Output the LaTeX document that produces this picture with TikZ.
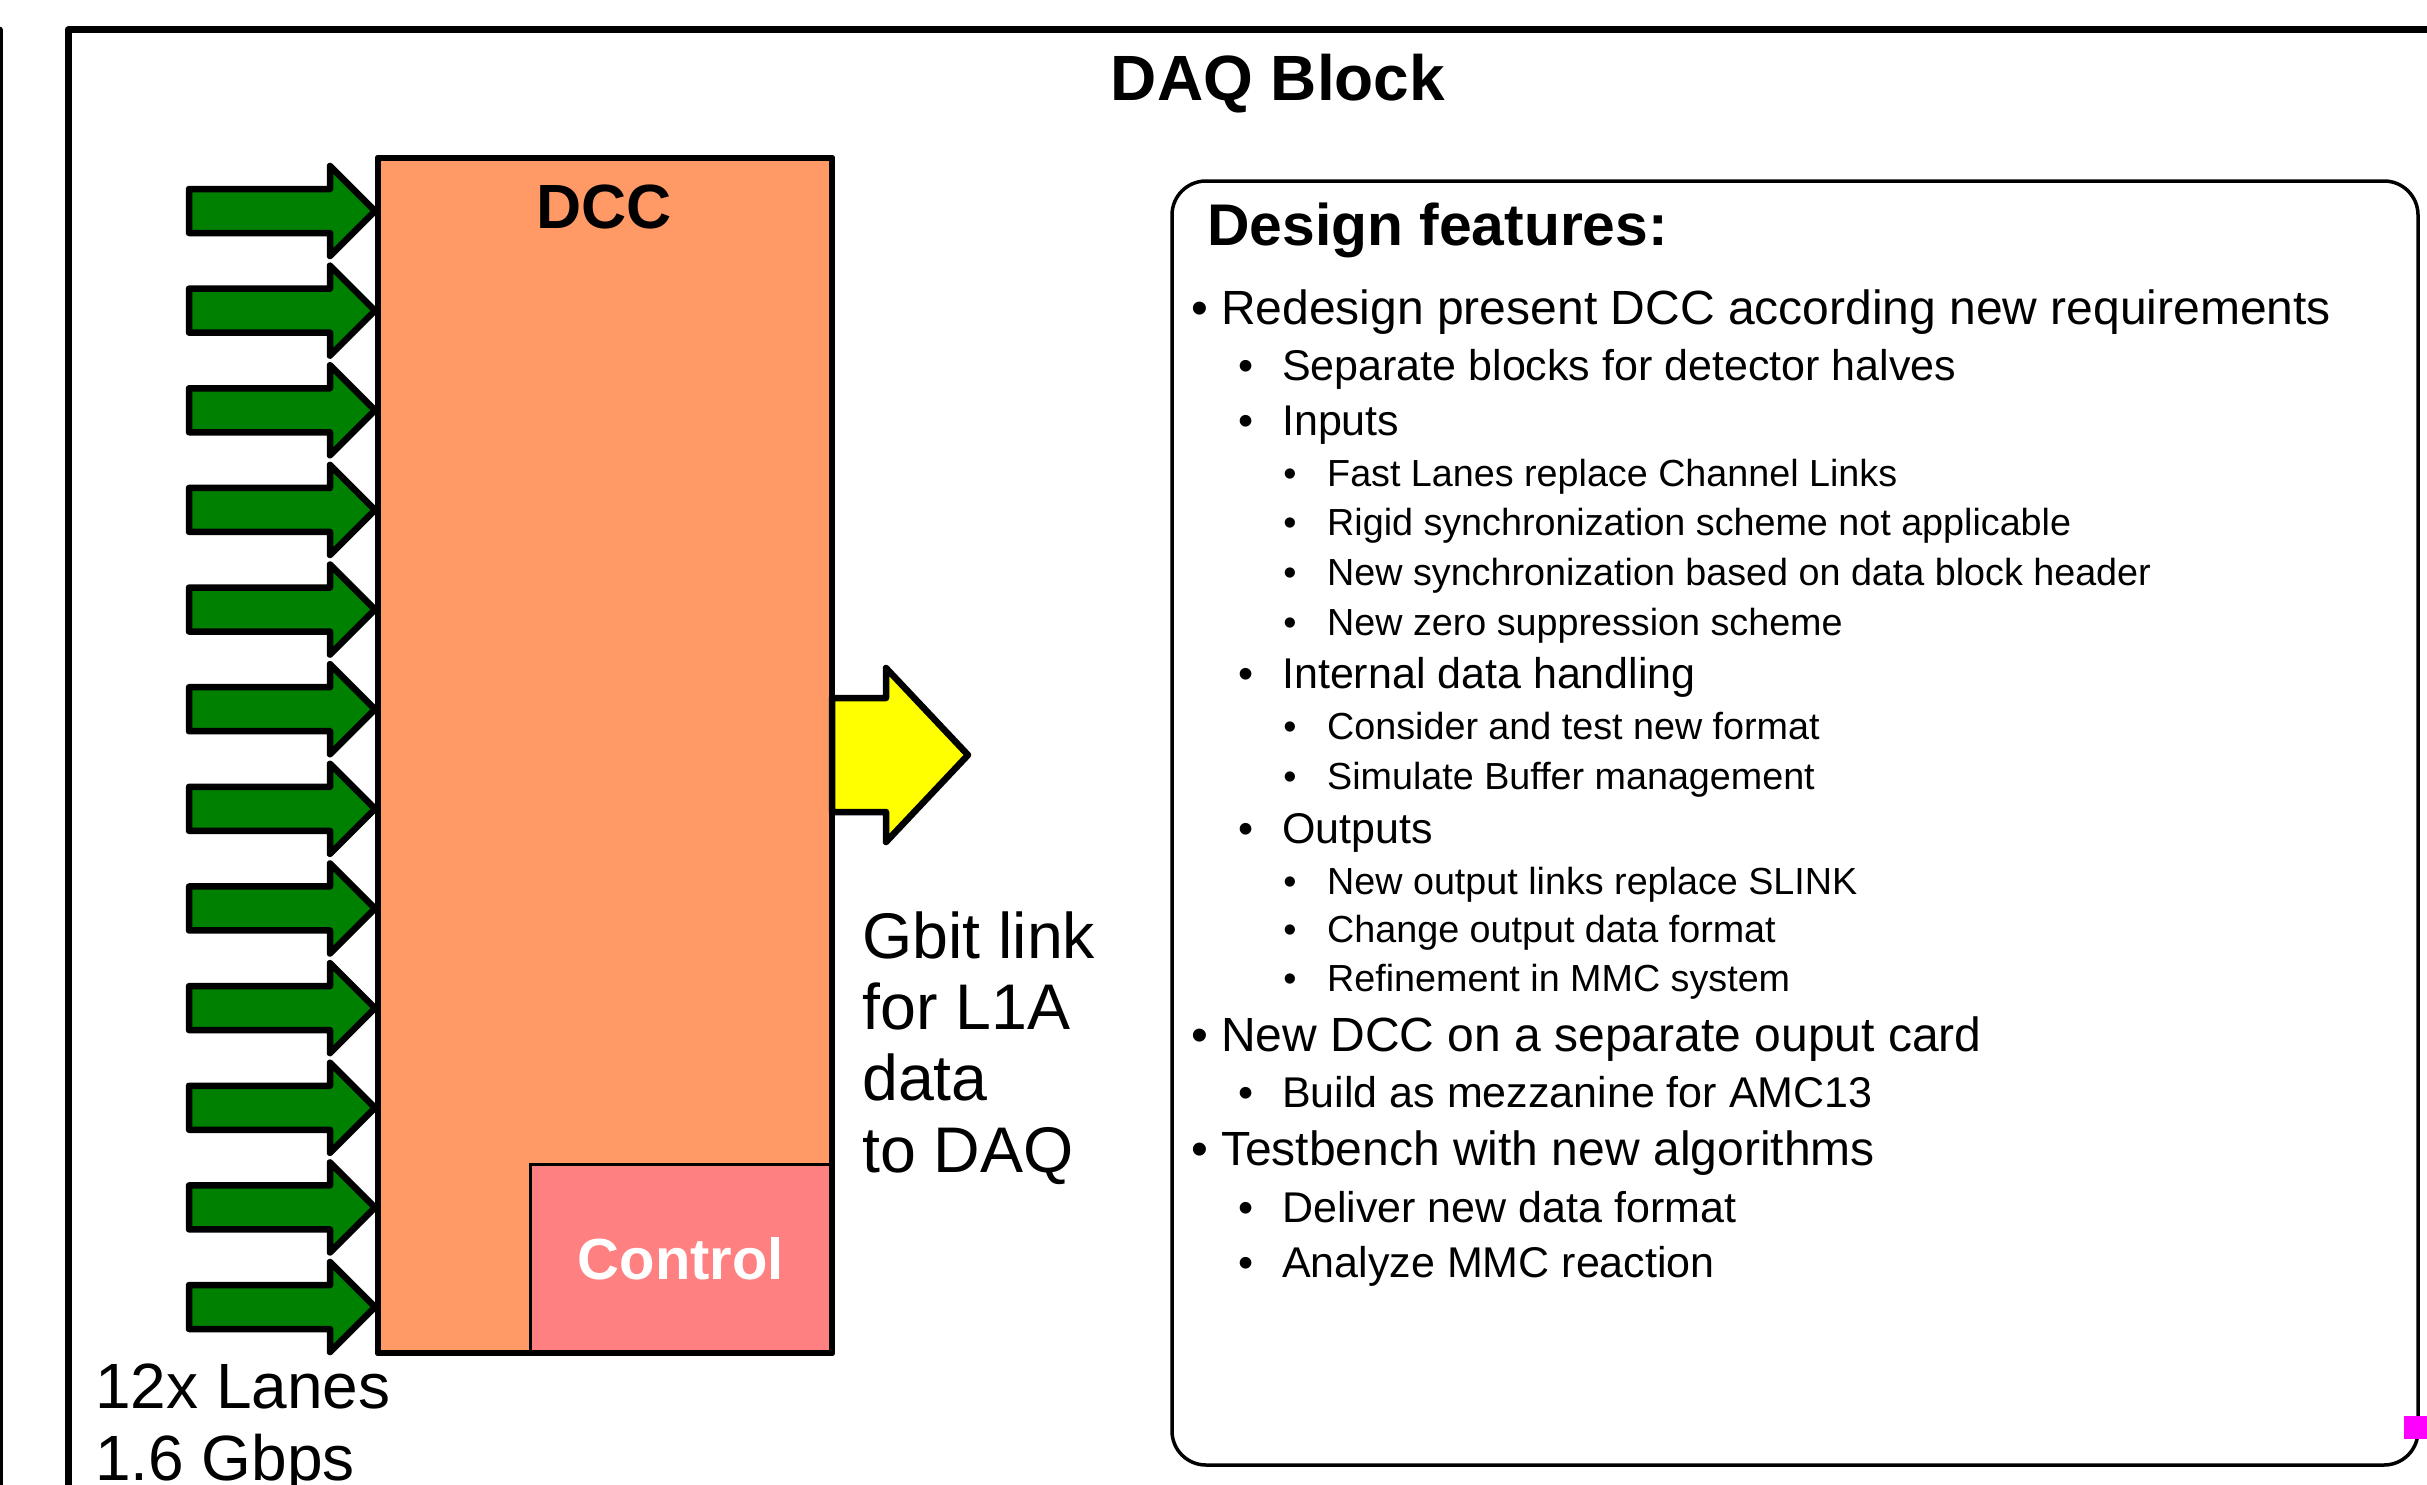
\documentclass[tikz,border=0pt]{standalone}
\usepackage{fontspec}
\setmainfont{Liberation Sans}
\definecolor{dccorange}{RGB}{255,153,102}
\definecolor{ctrlred}{RGB}{255,128,128}
\definecolor{lanegreen}{RGB}{0,128,0}
\definecolor{linkyellow}{RGB}{255,255,0}
\definecolor{marker}{RGB}{255,0,255}
\tikzset{
  fsz/.style={font=\fontsize{#1}{#1}\selectfont},
  txt/.style={inner sep=0pt, anchor=base west},
  ctxt/.style={inner sep=0pt, anchor=base},
  lanearrow/.style={draw=black, fill=lanegreen, line width=6.5pt, line join=round},
  linkarrow/.style={draw=black, fill=linkyellow, line width=6.5pt, line join=round},
  lone/.style={txt, fsz=48},
  ltwo/.style={txt, fsz=43},
  lthree/.style={txt, fsz=37.7},
  bone/.style={ctxt, fsz=48},
  btwo/.style={ctxt, fsz=43},
  bthree/.style={ctxt, fsz=37.7},
}
\begin{document}
\begin{tikzpicture}[x=1pt,y=-1pt]
\useasboundingbox (0,0) rectangle (2427,1485);
% frames
\draw[line width=7pt, line cap=round] (-0.5,30) -- (-0.5,1600);
\draw[line width=7pt, line join=round] (68,1600) -- (68,30) -- (2500,30);
\node[ctxt, font=\bfseries\fontsize{64}{64}\selectfont] (title) at (1278,101) {DAQ Block};
% DCC
\draw[fill=dccorange, line width=6pt, line join=round] (378,158) rectangle (832,1353);
\node[ctxt, font=\bfseries\fontsize{62.5}{62.5}\selectfont] (dcc) at (604,228) {DCC};
\draw[fill=ctrlred, line width=3pt] (530,1164) rectangle (832,1353);
\draw[line width=6pt, line join=round] (378,158) rectangle (832,1353);
\node[ctxt, text=white, font=\bfseries\fontsize{58}{58}\selectfont] (control) at (681,1279) {Control};
% lane arrows
\foreach \i in {0,...,11} {
  \pgfmathsetmacro\yy{211+99.64*\i}
  \begin{scope}[shift={(0,\yy)}]
    \draw[lanearrow] (189,-22) -- (330,-22) -- (330,-45) -- (375,0) -- (330,45) -- (330,22) -- (189,22) -- cycle;
  \end{scope}
}
% output arrow
\draw[linkarrow] (832,698) -- (886,698) -- (886,668) -- (968,755) -- (886,842) -- (886,812) -- (832,812) -- cycle;
% left labels
\node[txt, fsz=64.5] (g1) at (862,958) {Gbit link};
\node[txt, fsz=64.5] (g2) at (862,1029) {for L1A};
\node[txt, fsz=64.5] (g3) at (862,1100) {data};
\node[txt, fsz=64.5] (g4) at (862,1172) {to DAQ};
\node[txt, fsz=64] (l1) at (95,1408) {12x Lanes};
\node[txt, fsz=64] (l2) at (95,1480) {1.6 Gbps};
% design box
\draw[line width=3.5pt, rounded corners=34pt] (1172,181) rectangle (2418,1465);
\node[txt, font=\bfseries\fontsize{58.8}{58.8}\selectfont] (df) at (1207,245) {Design features:};
\node[bone] (b1) at (1200,324) {\textbullet};
\node[lone] (t1) at (1221,324) {Redesign present DCC according new requirements};
\node[btwo] (b2) at (1246,380) {\textbullet};
\node[ltwo] (t2) at (1282,380) {Separate blocks for detector halves};
\node[btwo] (b3) at (1246,435) {\textbullet};
\node[ltwo] (t3) at (1282,435) {Inputs};
\node[bthree] (b4) at (1290,486) {\textbullet};
\node[lthree] (t4) at (1327,486) {Fast Lanes replace Channel Links};
\node[bthree] (b5) at (1290,535) {\textbullet};
\node[lthree] (t5) at (1327,535) {Rigid synchronization scheme not applicable};
\node[bthree] (b6) at (1290,585) {\textbullet};
\node[lthree] (t6) at (1327,585) {New synchronization based on data block header};
\node[bthree] (b7) at (1290,635) {\textbullet};
\node[lthree] (t7) at (1327,635) {New zero suppression scheme};
\node[btwo] (b8) at (1246,688) {\textbullet};
\node[ltwo] (t8) at (1282,688) {Internal data handling};
\node[bthree] (b9) at (1290,739) {\textbullet};
\node[lthree] (t9) at (1327,739) {Consider and test new format};
\node[bthree] (b10) at (1290,789) {\textbullet};
\node[lthree] (t10) at (1327,789) {Simulate Buffer management};
\node[btwo] (b11) at (1246,843) {\textbullet};
\node[ltwo] (t11) at (1282,843) {Outputs};
\node[bthree] (b12) at (1290,894) {\textbullet};
\node[lthree] (t12) at (1327,894) {New output links replace SLINK};
\node[bthree] (b13) at (1290,942) {\textbullet};
\node[lthree] (t13) at (1327,942) {Change output data format};
\node[bthree] (b14) at (1290,991) {\textbullet};
\node[lthree] (t14) at (1327,991) {Refinement in MMC system};
\node[bone] (b15) at (1200,1051) {\textbullet};
\node[lone] (t15) at (1221,1051) {New DCC on a separate ouput card};
\node[btwo] (b16) at (1246,1107) {\textbullet};
\node[ltwo] (t16) at (1282,1107) {Build as mezzanine for AMC13};
\node[bone] (b17) at (1200,1165) {\textbullet};
\node[lone] (t17) at (1221,1165) {Testbench with new algorithms};
\node[btwo] (b18) at (1246,1222) {\textbullet};
\node[ltwo] (t18) at (1282,1222) {Deliver new data format};
\node[btwo] (b19) at (1246,1277) {\textbullet};
\node[ltwo] (t19) at (1282,1277) {Analyze MMC reaction};
% marker
\fill[marker] (2404,1416) rectangle (2432,1439);
\end{tikzpicture}
\end{document}
